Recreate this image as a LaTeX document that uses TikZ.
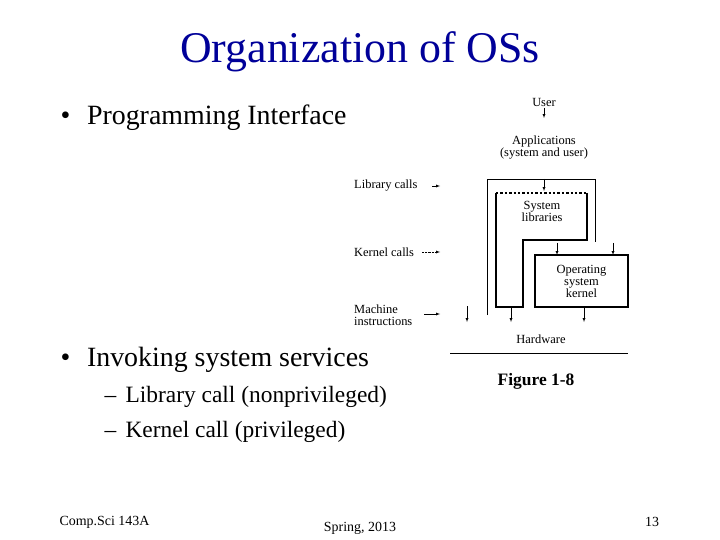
\documentclass[tikz,border=0pt]{standalone}
\usepackage{fontspec}
\setmainfont{Liberation Serif}
\begin{document}
\begin{tikzpicture}[x=1bp,y=-1bp,
  title/.style={text=blue!60!black,font=\fontsize{44}{46}\selectfont},
  bul/.style={anchor=west,font=\fontsize{28}{30}\selectfont},
  sub/.style={anchor=west,font=\fontsize{23.5}{26}\selectfont},
  foot/.style={font=\fontsize{14}{16}\selectfont},
  sm/.style={font=\fontsize{12.5}{12}\selectfont,align=center,inner sep=0pt},
  arr/.style={-latex,thin},
  thick box/.style={line width=2.4pt}]
\useasboundingbox (0,0) rectangle (720,540);
\node[title] (t) at (360,52) {Organization of OSs};
\node[bul] (b1) at (57,118) {•\hspace{0.6em}Programming Interface};
\node[bul] (b2) at (57,360) {•\hspace{0.6em}Invoking system services};
\node[sub] (s1) at (101,397) {–\hspace{0.4em}Library call (nonprivileged)};
\node[sub] (s2) at (101,432) {–\hspace{0.4em}Kernel call (privileged)};
\node[font=\bfseries\fontsize{17.5}{19}\selectfont] (fig) at (536,381) {Figure 1-8};
\node[foot,anchor=west] (f1) at (56,522) {Comp.Sci 143A};
\node[foot] (f2) at (360,528) {Spring, 2013};
\node[foot] (f3) at (652,522) {13};
% diagram
\node[sm] (user) at (544,102) {User};
\node[sm] (app) at (544,148) {Applications\\(system and user)};
\draw[arr] (544,108) -- (544,118);
\draw[thin] (487,315) -- (487,179) -- (595,179) -- (595,242);
\draw[arr] (544,179) -- (544,191);
\draw[thick box] (587,193) -- (587,240) -- (523,240) -- (523,307) -- (496,307) -- (496,193);
\draw[line width=2.4pt,dotted] (496,193) -- (587,193);
\node[sm] (syslib) at (542,211) {System\\libraries};
\node[draw,thick box,minimum width=93bp,minimum height=52bp,inner sep=0pt] (os) at (581.5,281) {};
\node[sm] at (os) {Operating\\system\\kernel};
\draw[arr] (557,243) -- (557,255);
\draw[arr] (613,243) -- (613,255);
\draw[arr] (511,307) -- (511,322);
\draw[arr] (584,307) -- (584,322);
\draw[arr] (467,306) -- (467,322);
\node[sm] (hw) at (541,339) {Hardware};
\draw[thin] (450,353) -- (628,353);
\node[sm,anchor=west] (lc) at (354,186) {Library calls};
\node[sm,anchor=west] (kc) at (354,252) {Kernel calls};
\node[sm,anchor=west,align=left] (mi) at (354,315) {Machine\\instructions};
\draw[arr] (432,186) -- (440,186);
\draw[arr,densely dotted] (422,252) -- (440,252);
\draw[arr] (424,314) -- (440,314);
\end{tikzpicture}
\end{document}
